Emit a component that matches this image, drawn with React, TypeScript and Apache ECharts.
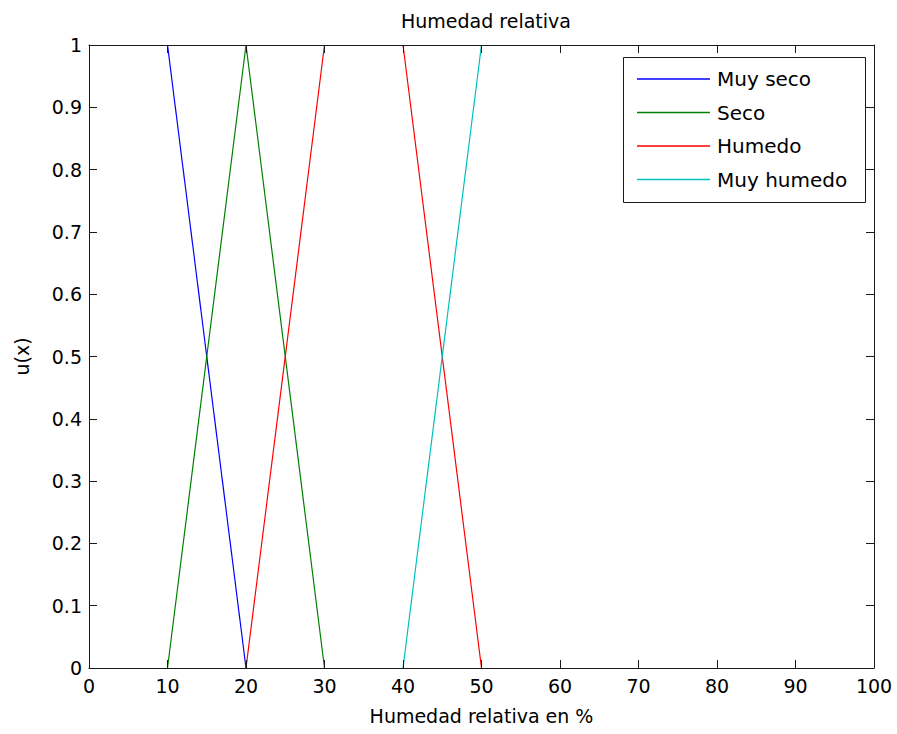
import React, { useEffect, useRef } from "react";
import * as echarts from "echarts";

const seriesNames = ["Muy seco", "Seco", "Humedo", "Muy humedo"];
const seriesColors = ["#0000ff", "#008000", "#ff0000", "#00bfbf"];
const muySeco: [number, number | string][] = [[10, 1], [20, 0]];
const seco: [number, number | string][] = [[10, 0], [20, 1], [30, 0]];
// the plateau 30..40 at u=1 lies under the top border, drawn black in the reference
const humedo: [number, number | string][] = [[20, 0], [30, 1], [35, "-"], [40, 1], [50, 0]];
const muyHumedo: [number, number | string][] = [[40, 0], [50, 1]];
const seriesData = [muySeco, seco, humedo, muyHumedo];

const FONT = "DejaVu Sans";
const AX = "#1a1a1a";

export default function App() {
  const ref = useRef<HTMLDivElement>(null);
  useEffect(() => {
    document.body.style.margin = "0";
    const chart = echarts.init(ref.current!, undefined, { renderer: "svg" });
    const tickCommon = {
      z: 5,
      axisLine: { show: true, onZero: false, lineStyle: { color: AX, width: 1 } },
      axisTick: { show: true, inside: true, length: 8, lineStyle: { color: AX } },
      splitLine: { show: false },
    };
    chart.setOption({
      animation: false,
      backgroundColor: "#ffffff",
      textStyle: { fontFamily: FONT },
      title: {
        text: "Humedad relativa",
        left: 481,
        textAlign: "center",
        top: 6,
        textStyle: { fontFamily: FONT, fontSize: 19, fontWeight: "normal", color: "#000" },
      },
      grid: { left: 89, right: 23, top: 45, bottom: 66, containLabel: false },
      xAxis: [
        {
          type: "value",
          min: 0,
          max: 100,
          interval: 10,
          position: "bottom",
          name: "Humedad relativa en %",
          nameLocation: "middle",
          nameGap: 38,
          nameTextStyle: { fontFamily: FONT, fontSize: 19, color: "#000" },
          axisLabel: { fontFamily: FONT, fontSize: 19, color: "#000", margin: 8 },
          ...tickCommon,
        },
        {
          type: "value",
          min: 0,
          max: 100,
          interval: 10,
          position: "top",
          axisLabel: { show: false },
          ...tickCommon,
        },
      ],
      yAxis: [
        {
          type: "value",
          min: 0,
          max: 1,
          interval: 0.1,
          position: "left",
          name: "u(x)",
          nameLocation: "middle",
          nameGap: 58,
          nameRotate: 90,
          nameTextStyle: { fontFamily: FONT, fontSize: 19, color: "#000" },
          axisLabel: {
            fontFamily: FONT,
            fontSize: 19,
            color: "#000",
            margin: 7,
            formatter: (v: number) => String(Math.round(v * 10) / 10),
          },
          ...tickCommon,
        },
        {
          type: "value",
          min: 0,
          max: 1,
          interval: 0.1,
          position: "right",
          axisLabel: { show: false },
          ...tickCommon,
        },
      ],
      legend: {
        show: true,
        z: 20,
        orient: "vertical",
        left: 637,
        top: 69,
        padding: 0,
        itemWidth: 73,
        itemHeight: 1.5,
        itemGap: 13.5,
        icon: "rect",
        textStyle: { fontFamily: FONT, fontSize: 20, color: "#000", padding: [0, 0, 0, 2], lineHeight: 20 },
        data: seriesNames.map((n, i) => ({ name: n, itemStyle: { color: seriesColors[i] } })),
      },
      graphic: [
        {
          type: "rect",
          left: 623,
          top: 57,
          shape: { width: 242, height: 145 },
          style: { fill: "#fff", stroke: AX, lineWidth: 1 },
          z: 10,
        },
      ],
      series: seriesData.map((d, i) => ({
        name: seriesNames[i],
        type: "line",
        data: d,
        connectNulls: false,
        xAxisIndex: 0,
        yAxisIndex: 0,
        symbol: "none",
        showSymbol: false,
        lineStyle: { color: seriesColors[i], width: 1.2 },
        itemStyle: { color: seriesColors[i] },
        z: 2,
      })),
    });
    return () => chart.dispose();
  }, []);
  return <div ref={ref} style={{ width: 897, height: 734 }} />;
}
